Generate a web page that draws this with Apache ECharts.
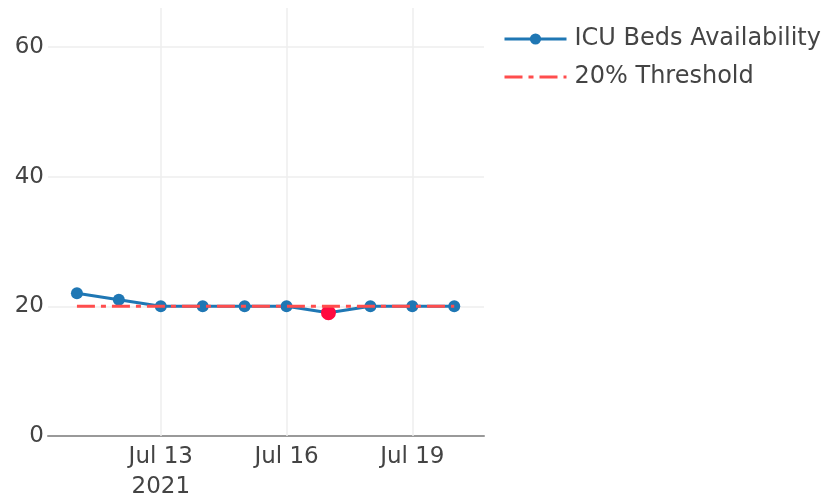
<!DOCTYPE html>
<html>
<head>
<meta charset="utf-8">
<script src="https://cdn.jsdelivr.net/npm/echarts@6/dist/echarts.min.js"></script>
<style>
  html, body { margin: 0; padding: 0; background: #fff; }
  #main { width: 827px; height: 498px; }
</style>
</head>
<body>
<div id="main"></div>
<script>
// data (July 2021)
var days = [11, 12, 13, 14, 15, 16, 17, 18, 19, 20];
var icuBeds = [22, 21, 20, 20, 20, 20, 19, 20, 20, 20];
var threshold = [20, 20, 20, 20, 20, 20, 20, 20, 20, 20];
var tickDays = [13, 16, 19];
var yTicks = [0, 20, 40, 60];

var myChart = echarts.init(document.getElementById('main'));

// points under the threshold get the red marker
var bedsData = [];
for (var i = 0; i < days.length; i++) {
    var item = { value: [days[i], icuBeds[i]] };
    if (icuBeds[i] < threshold[i]) {
        item.symbolSize = 15;
        item.itemStyle = { color: '#ff0a3f' };
    }
    bedsData.push(item);
}
var thresholdData = [];
for (var j = 0; j < days.length; j++) {
    thresholdData.push([days[j], threshold[j]]);
}
var gridLines = [];
for (var k = 0; k < tickDays.length; k++) {
    gridLines.push({ xAxis: tickDays[k] });
}

var font = 'DejaVu Sans, Verdana, sans-serif';

var option = {
    animation: false,
    textStyle: { fontFamily: font },
    grid: { left: 48, right: 343, top: 8, bottom: 62, containLabel: false, outerBoundsMode: 'none' },
    legend: {
        left: 498,
        top: 22,
        orient: 'vertical',
        itemWidth: 62,
        itemHeight: 14,
        itemGap: 14,
        textStyle: { fontFamily: font, fontSize: 24, color: '#444', padding: [0, 0, 0, 3] },
        data: [
            { name: 'ICU Beds Availability', lineStyle: { width: 3 } },
            { name: '20% Threshold', lineStyle: { width: 3 }, itemStyle: { opacity: 0 } }
        ]
    },
    xAxis: {
        type: 'value',
        min: 10.31,
        max: 20.71,
        axisLine: { show: true, lineStyle: { color: '#999', width: 2 } },
        axisTick: { show: false },
        splitLine: { show: false },
        axisLabel: {
            customValues: tickDays,
            color: '#444',
            fontSize: 23,
            lineHeight: 30,
            fontFamily: font,
            margin: 6,
            formatter: function (v) {
                var s = 'Jul ' + Math.round(v);
                if (Math.round(v) === tickDays[0]) s += '\n2021';
                return s;
            }
        }
    },
    yAxis: {
        type: 'value',
        min: 0,
        max: 66,
        interval: 20,
        axisLine: { show: false },
        axisTick: { show: false },
        axisLabel: {
            customValues: yTicks,
            color: '#444',
            fontSize: 23,
            fontFamily: font,
            margin: 4
        },
        splitLine: { show: true, showMaxLine: false, lineStyle: { color: '#eee', width: 1.5 } }
    },
    series: [
        {
            name: 'ICU Beds Availability',
            type: 'line',
            data: bedsData,
            symbol: 'circle',
            symbolSize: 12,
            color: '#1f77b4',
            lineStyle: { width: 3, color: '#1f77b4' },
            itemStyle: { color: '#1f77b4' },
            z: 3,
            markLine: {
                silent: true,
                symbol: 'none',
                label: { show: false },
                lineStyle: { color: '#eee', width: 1.5, type: 'solid' },
                data: gridLines,
                z: 1
            }
        },
        {
            name: '20% Threshold',
            type: 'line',
            data: thresholdData,
            symbol: 'none',
            color: '#ff4d4d',
            lineStyle: { width: 3, color: '#ff4d4d', type: [18, 6, 5, 6] },
            z: 4
        }
    ]
};
myChart.setOption(option);
</script>
</body>
</html>
